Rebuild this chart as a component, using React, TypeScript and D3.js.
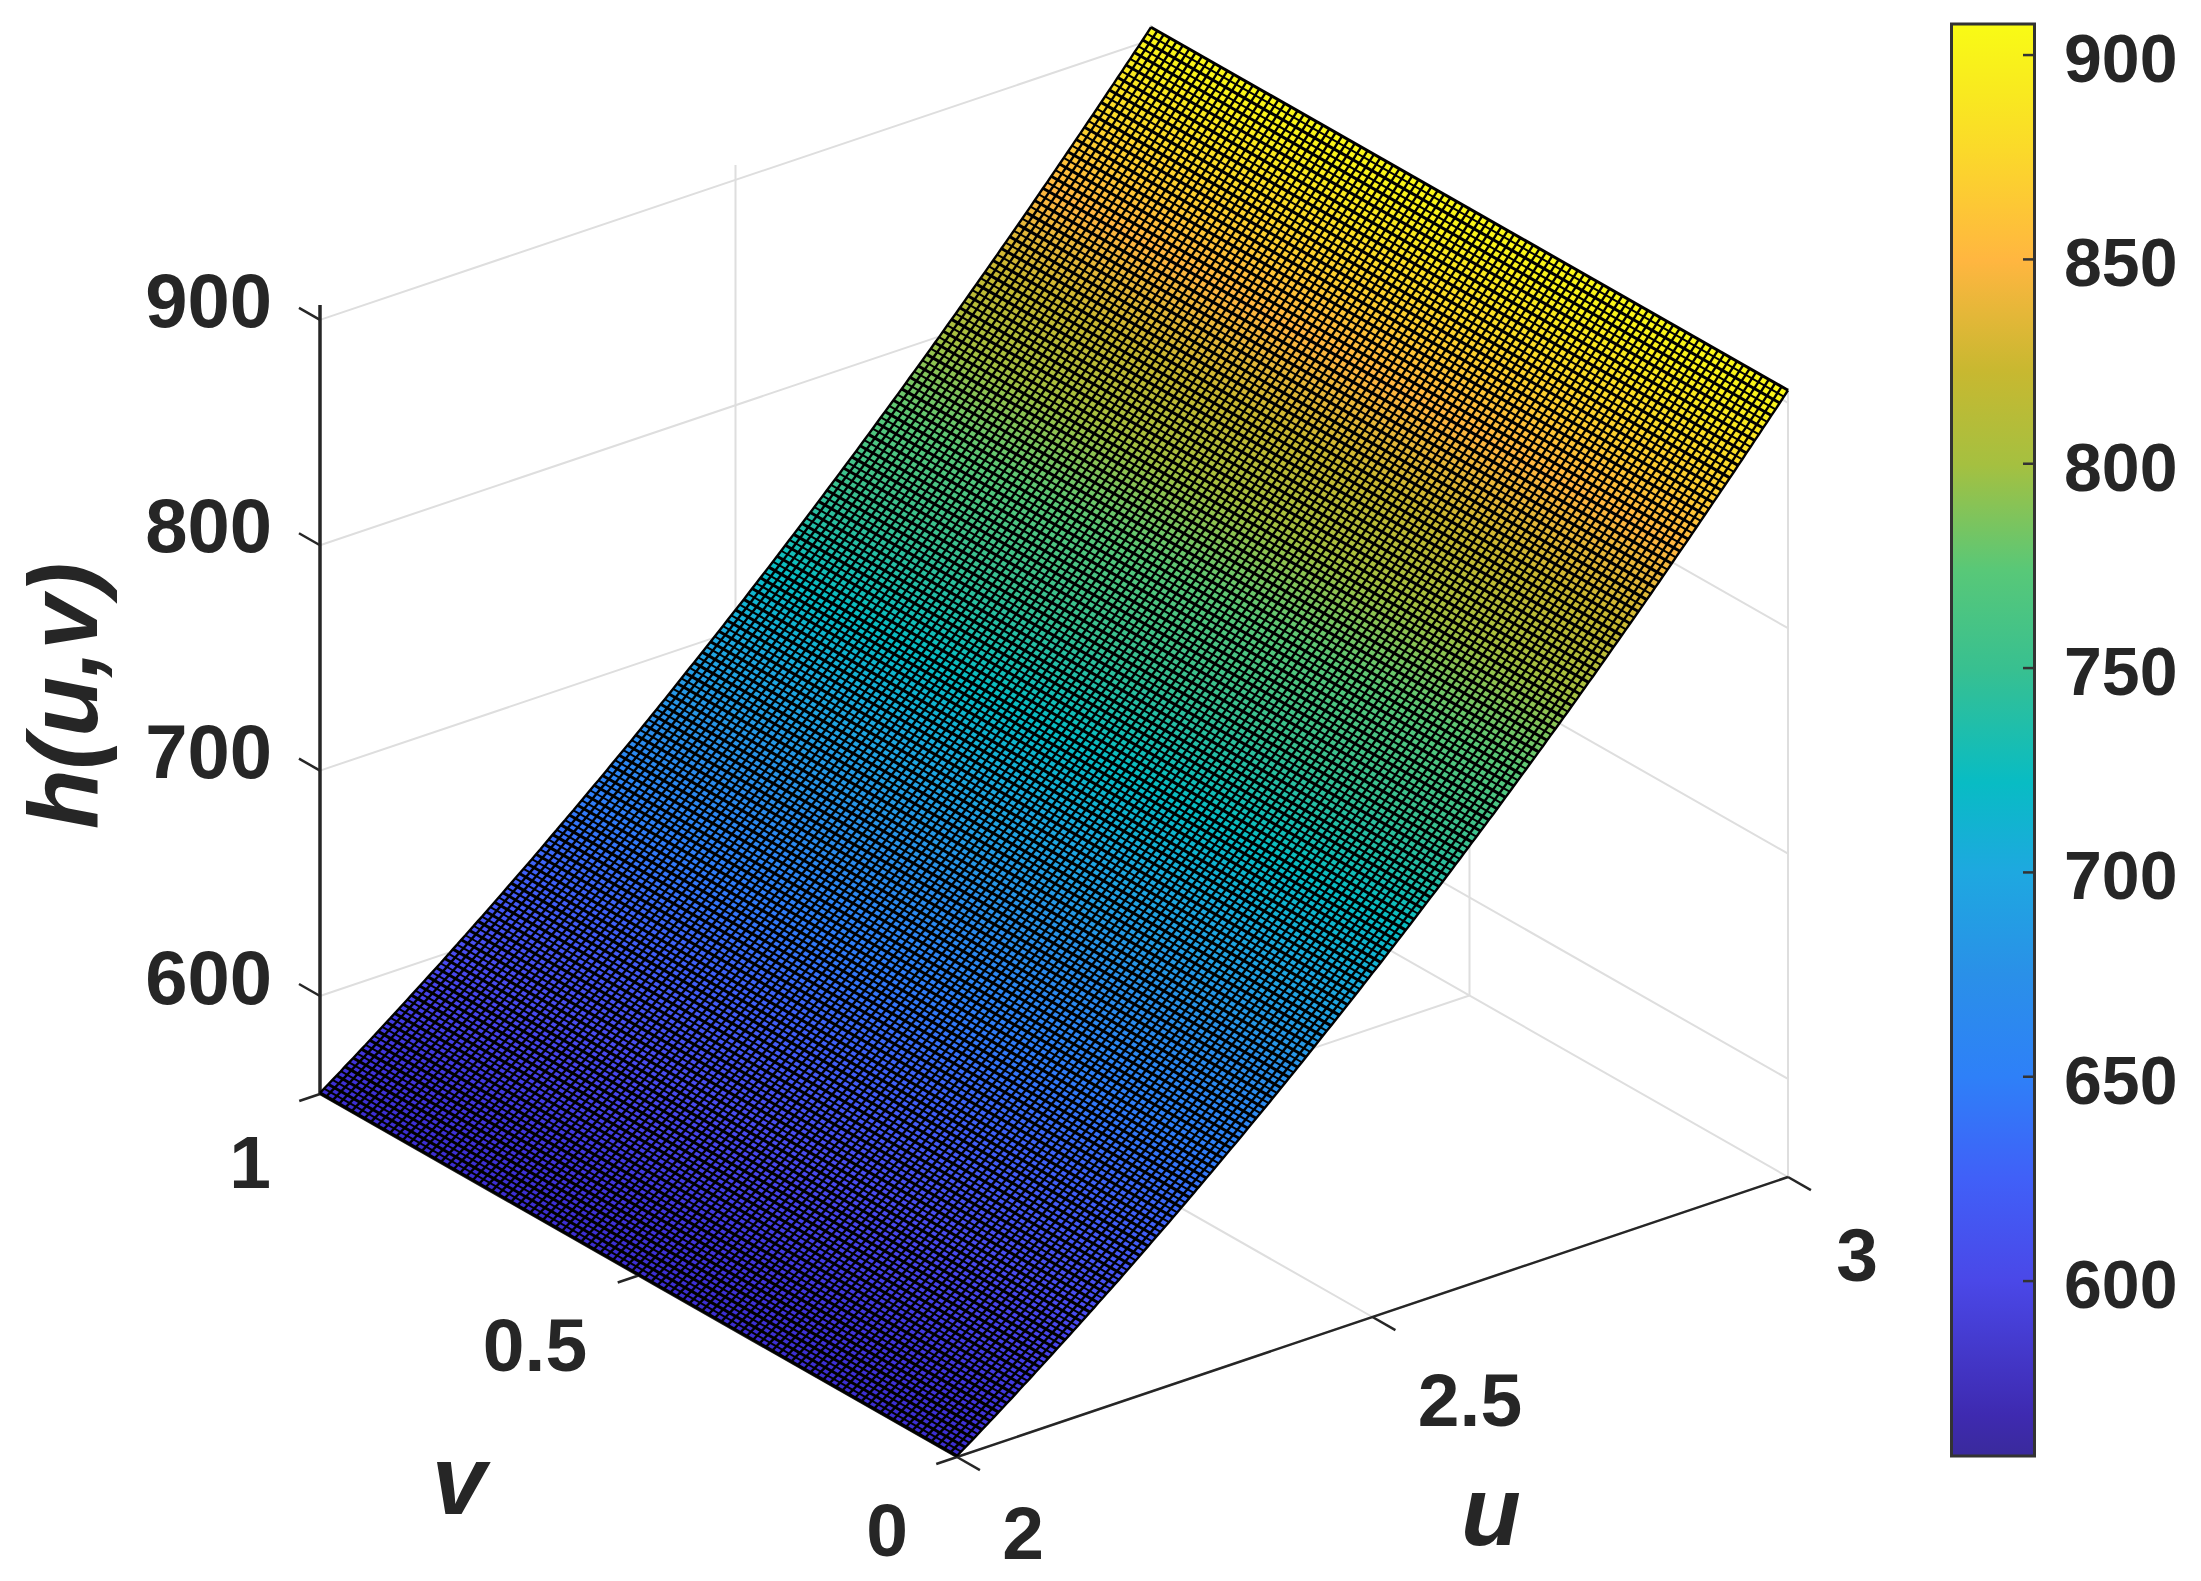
import * as d3 from 'd3';
import { useEffect, useRef } from 'react';

const width = 2201;
const height = 1581;

const hValues = [
  557.0, 558.3, 559.6, 560.9, 562.2, 563.5, 564.9, 566.2, 567.5, 568.8,
  570.2, 571.5, 572.9, 574.2, 575.6, 577.0, 578.4, 579.7, 581.1, 582.5,
  583.9, 585.3, 586.7, 588.1, 589.5, 590.9, 592.3, 593.7, 595.1, 596.5,
  598.0, 599.4, 600.9, 602.3, 603.8, 605.2, 606.7, 608.1, 609.6, 611.0,
  612.5, 614.0, 615.5, 617.0, 618.5, 620.0, 621.5, 623.0, 624.5, 626.0,
  627.5, 629.0, 630.6, 632.1, 633.7, 635.2, 636.8, 638.3, 639.9, 641.4,
  643.0, 644.5, 646.1, 647.7, 649.3, 650.9, 652.5, 654.0, 655.6, 657.2,
  658.9, 660.5, 662.1, 663.7, 665.3, 666.9, 668.6, 670.2, 671.9, 673.5,
  675.2, 676.8, 678.5, 680.1, 681.8, 683.5, 685.2, 686.9, 688.6, 690.3,
  692.0, 693.7, 695.4, 697.1, 698.8, 700.5, 702.2, 703.9, 705.7, 707.4,
  709.2, 710.9, 712.6, 714.4, 716.2, 717.9, 719.7, 721.4, 723.2, 725.0,
  726.8, 728.6, 730.4, 732.2, 734.0, 735.8, 737.6, 739.4, 741.2, 743.0,
  744.9, 746.7, 748.6, 750.4, 752.3, 754.1, 756.0, 757.8, 759.7, 761.5,
  763.4, 765.3, 767.2, 769.1, 771.0, 772.9, 774.8, 776.7, 778.6, 780.5,
  782.4, 784.3, 786.3, 788.2, 790.1, 792.0, 794.0, 795.9, 797.9, 799.8,
  801.8, 803.8, 805.8, 807.7, 809.7, 811.7, 813.7, 815.7, 817.7, 819.7,
  821.7, 823.7, 825.7, 827.7, 829.8, 831.8, 833.8, 835.8, 837.9, 839.9,
  842.0, 844.0, 846.1, 848.2, 850.3, 852.3, 854.4, 856.5, 858.6, 860.7,
  862.8, 864.9, 867.0, 869.1, 871.2, 873.3, 875.4, 877.5, 879.7, 881.8,
  884.0, 886.1, 888.3, 890.4, 892.6, 894.7, 896.9, 899.0, 901.2, 903.4,
  905.6,
];

const uTicks = [2, 2.5, 3];
const vTicks = [0, 0.5, 1];
const zTicks = [600, 700, 800, 900];
const barTicks = [600, 650, 700, 750, 800, 850, 900];

const cmapValues = [557, 567, 600, 625, 650, 675, 700, 722, 750, 774, 800, 823, 850, 877, 890, 908];
const cmapColors = [
  '#3a2a9c', '#3e2ab0', '#4a48e8', '#4060f8', '#2e80f8', '#2a90e8', '#1ea8e0', '#08bcc4',
  '#38c090', '#58c878', '#a5c040', '#c8b830', '#ffb640', '#fbd92a', '#f9e820', '#f9fb15',
];
// faces come out more saturated than the bar at the low end
const faceColors = [
  '#3c2ed0', '#4034dc', '#4a4cf0', '#4060f8', '#2e80f8', '#2a90e8', '#1ea8e0', '#08bcc4',
  '#38c090', '#58c878', '#a5c040', '#c8b830', '#ffb640', '#fbd92a', '#f9e820', '#f9fb15',
];

const ink = '#262626';
const grid = '#dedede';
const font = '"Liberation Sans", Arial, sans-serif';

export default function App() {
  const ref = useRef<SVGSVGElement>(null);

  useEffect(() => {
    const svg = d3.select(ref.current);
    svg.selectAll('*').remove();

    const zMin = 556.5;
    const zMax = 906.6;

    // oblique projection of the MATLAB box
    const ux = d3.scaleLinear().domain([2, 3]).range([0, 831]);
    const uy = d3.scaleLinear().domain([2, 3]).range([0, -280]);
    const vx = d3.scaleLinear().domain([0, 1]).range([957, 320]);
    const vy = d3.scaleLinear().domain([0, 1]).range([1457, 1094]);
    const zy = d3.scaleLinear().domain([zMin, zMax]).range([0, -789]);

    const px = (u: number, v: number) => ux(u) + vx(v);
    const py = (u: number, v: number, z: number) => uy(u) + vy(v) + zy(z);
    const seg = (pts: [number, number, number][]) =>
      d3.line()(pts.map(([u, v, z]) => [px(u, v), py(u, v, z)]))!;

    const color = d3
      .scaleLinear<string>()
      .domain(cmapValues)
      .range(faceColors)
      .interpolate(d3.interpolateRgb);

    // gridlines on floor and the two back walls
    const gridPaths: [number, number, number][][] = [];
    uTicks.forEach((u) => {
      gridPaths.push([[u, 0, zMin], [u, 1, zMin], [u, 1, zMax]]);
    });
    vTicks.forEach((v) => {
      gridPaths.push([[2, v, zMin], [3, v, zMin], [3, v, zMax]]);
    });
    zTicks.forEach((z) => {
      gridPaths.push([[2, 1, z], [3, 1, z], [3, 0, z]]);
    });
    svg
      .append('g')
      .selectAll('path')
      .data(gridPaths)
      .enter()
      .append('path')
      .attr('d', (d) => seg(d))
      .attr('fill', 'none')
      .attr('stroke', grid)
      .attr('stroke-width', 2);

    // axes and ticks
    const axes = svg.append('g').attr('fill', 'none').attr('stroke', ink);
    axes.append('path').attr('d', seg([[2, 1, zMin], [2, 1, zMax]])).attr('stroke-width', 3.5);
    axes.append('path').attr('d', seg([[2, 0, zMin], [3, 0, zMin]])).attr('stroke-width', 2.5);
    axes.append('path').attr('d', seg([[2, 0, zMin], [2, 1, zMin]])).attr('stroke-width', 2.5);
    zTicks.forEach((z) => {
      axes.append('path').attr('d', seg([[2, 1, z], [2, 1.033, z]])).attr('stroke-width', 2.5);
    });
    uTicks.forEach((u) => {
      axes.append('path').attr('d', seg([[u, 0, zMin], [u, -0.036, zMin]])).attr('stroke-width', 2.5);
    });
    vTicks.forEach((v) => {
      axes.append('path').attr('d', seg([[2, v, zMin], [1.975, v, zMin]])).attr('stroke-width', 2.5);
    });

    // surface: one filled band per mesh row, then the black mesh on top
    const rows = hValues.length - 1;
    const uAt = d3.scaleLinear().domain([0, rows]).range([2, 3]);
    const columns = d3.range(0, 101).map((i) => i / 100);

    const surface = svg.append('g');
    surface
      .selectAll('path.face')
      .data(hValues.slice(0, -1))
      .enter()
      .append('path')
      .attr('class', 'face')
      .attr('d', (h, i) =>
        seg([
          [uAt(i), 0, h],
          [uAt(i), 1, h],
          [uAt(i + 1), 1, hValues[i + 1]],
          [uAt(i + 1), 0, hValues[i + 1]],
        ]) + 'Z',
      )
      .attr('fill', (h) => color(h));

    // every second row line is heavier, that gives the banding of the original
    surface
      .selectAll('path.row')
      .data(hValues)
      .enter()
      .append('path')
      .attr('class', 'row')
      .attr('d', (h, i) => seg([[uAt(i), 0, h], [uAt(i), 1, h]]))
      .attr('fill', 'none')
      .attr('stroke', '#000')
      .attr('stroke-width', (_h, i) => (i % 2 === 0 ? 3 : 2));

    surface
      .selectAll('path.col')
      .data(columns)
      .enter()
      .append('path')
      .attr('class', 'col')
      .attr('d', (v) => seg(hValues.map((h, i) => [uAt(i), v, h] as [number, number, number])))
      .attr('fill', 'none')
      .attr('stroke', '#000')
      .attr('stroke-width', 2.4);

    // tick labels
    const label = (x: number, y: number, text: string, size: number, anchor = 'middle') =>
      svg
        .append('text')
        .attr('x', x)
        .attr('y', y)
        .attr('text-anchor', anchor)
        .attr('dominant-baseline', 'central')
        .attr('font-family', font)
        .attr('font-weight', 'bold')
        .attr('font-size', size)
        .attr('fill', ink)
        .text(text);

    const zLabelY = d3.scaleLinear().domain([600, 900]).range([977, 300]);
    zTicks.forEach((z) => label(272, zLabelY(z), String(z), 76, 'end'));

    label(250, 1162, '1', 75);
    label(535, 1345, '0.5', 75);
    label(887, 1530, '0', 75);
    label(1023, 1533, '2', 75);
    label(1470, 1400, '2.5', 75);
    label(1857, 1255, '3', 75);

    // axis titles
    const title = (x: number, y: number, text: string, rotate = 0) =>
      svg
        .append('text')
        .attr('transform', `translate(${x},${y}) rotate(${rotate})`)
        .attr('text-anchor', 'middle')
        .attr('font-family', font)
        .attr('font-weight', 'bold')
        .attr('font-style', 'italic')
        .attr('font-size', 98)
        .attr('fill', ink)
        .text(text);
    title(97, 696, 'h(u,v)', -90);
    title(459, 1514, 'v');
    title(1491, 1545, 'u');

    // colorbar
    const barY = d3.scaleLinear().domain([557.2, 907.6]).range([1456, 24]);
    const defs = svg.append('defs');
    const gradient = defs
      .append('linearGradient')
      .attr('id', 'bar')
      .attr('x1', 0)
      .attr('y1', 1)
      .attr('x2', 0)
      .attr('y2', 0);
    cmapValues.forEach((val, i) => {
      gradient
        .append('stop')
        .attr('offset', (val - 557) / (908 - 557))
        .attr('stop-color', cmapColors[i]);
    });
    svg
      .append('rect')
      .attr('x', 1951.5)
      .attr('y', barY(907.6))
      .attr('width', 83)
      .attr('height', barY(557.2) - barY(907.6))
      .attr('fill', 'url(#bar)')
      .attr('stroke', '#333')
      .attr('stroke-width', 3);
    barTicks.forEach((t) => {
      svg
        .append('line')
        .attr('x1', 2023)
        .attr('x2', 2034)
        .attr('y1', barY(t))
        .attr('y2', barY(t))
        .attr('stroke', '#333')
        .attr('stroke-width', 2.5);
      label(2064, barY(t) + 3, String(t), 68, 'start');
    });
  }, []);

  return (
    <svg
      ref={ref}
      width={width}
      height={height}
      style={{ position: 'absolute', left: 0, top: 0, background: '#fff' }}
    />
  );
}
